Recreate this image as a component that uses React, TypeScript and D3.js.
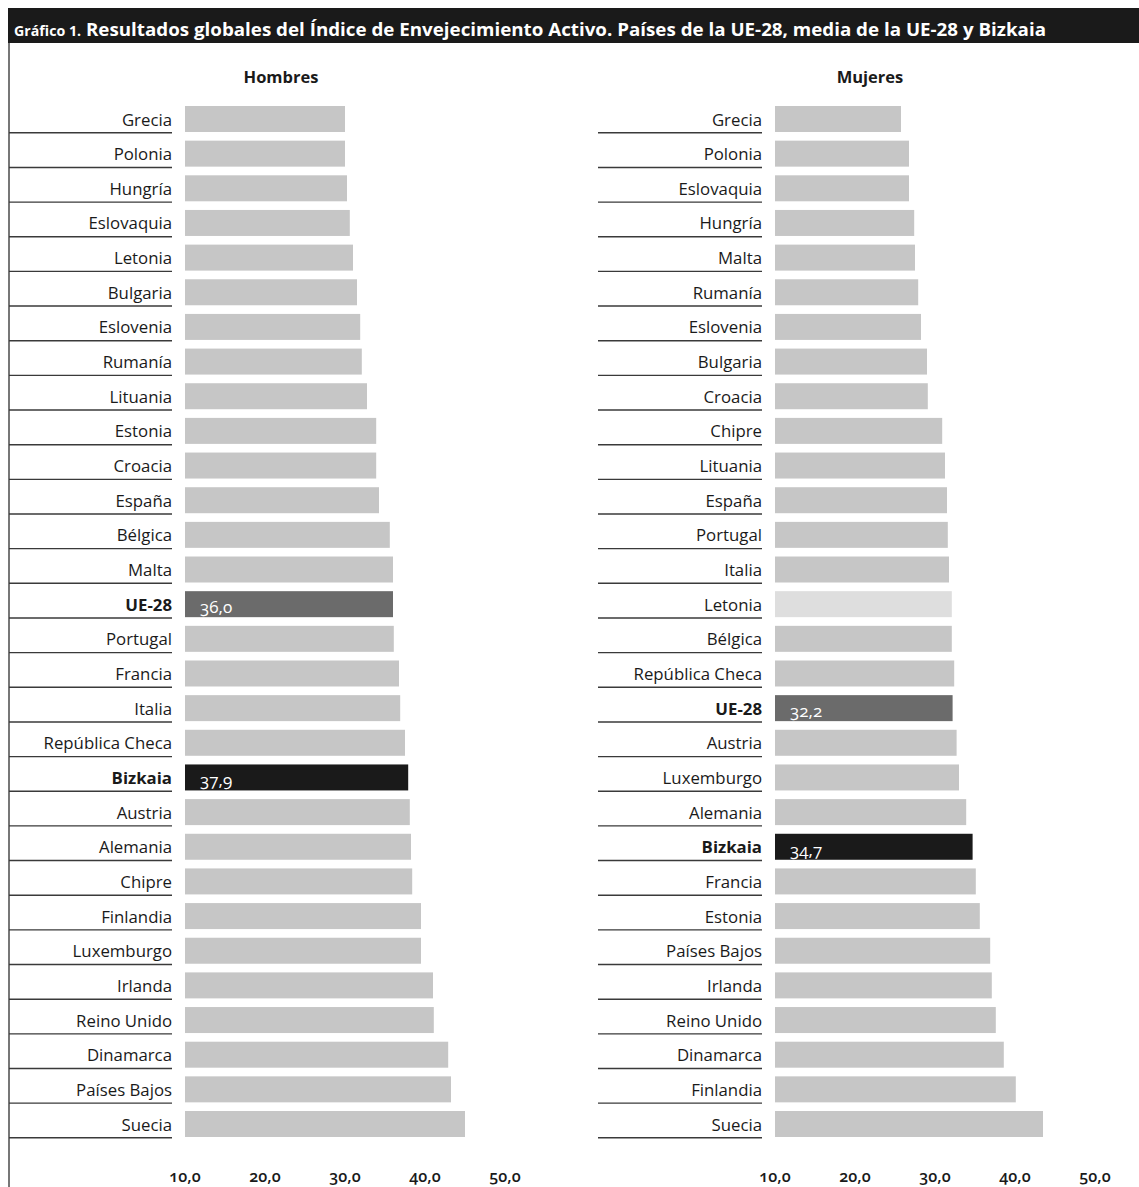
import * as d3 from 'd3';

// Hombres (orden del gráfico, de arriba a abajo)
const menCountries = [
  'Grecia', 'Polonia', 'Hungría', 'Eslovaquia', 'Letonia', 'Bulgaria', 'Eslovenia',
  'Rumanía', 'Lituania', 'Estonia', 'Croacia', 'España', 'Bélgica', 'Malta', 'UE-28',
  'Portugal', 'Francia', 'Italia', 'República Checa', 'Bizkaia', 'Austria', 'Alemania',
  'Chipre', 'Finlandia', 'Luxemburgo', 'Irlanda', 'Reino Unido', 'Dinamarca',
  'Países Bajos', 'Suecia',
];
const menValues = [
  30.0, 30.0, 30.25, 30.6, 31.0, 31.5, 31.9, 32.1, 32.75, 33.9, 33.9, 34.25, 35.6, 36.0, 36.0,
  36.1, 36.75, 36.9, 37.5, 37.9, 38.1, 38.25, 38.4, 39.5, 39.5, 41.0, 41.1, 42.9, 43.25, 45.0,
];

// Mujeres
const womenCountries = [
  'Grecia', 'Polonia', 'Eslovaquia', 'Hungría', 'Malta', 'Rumanía', 'Eslovenia', 'Bulgaria',
  'Croacia', 'Chipre', 'Lituania', 'España', 'Portugal', 'Italia', 'Letonia', 'Bélgica',
  'República Checa', 'UE-28', 'Austria', 'Luxemburgo', 'Alemania', 'Bizkaia', 'Francia',
  'Estonia', 'Países Bajos', 'Irlanda', 'Reino Unido', 'Dinamarca', 'Finlandia', 'Suecia',
];
const womenValues = [
  25.75, 26.75, 26.75, 27.4, 27.5, 27.9, 28.25, 29.0, 29.1, 30.9, 31.25, 31.5, 31.6, 31.75, 32.1,
  32.1, 32.4, 32.2, 32.7, 33.0, 33.9, 34.7, 35.1, 35.6, 36.9, 37.1, 37.6, 38.6, 40.1, 43.5,
];

const tickValues = [10, 20, 30, 40, 50];
const labelledRows = ['UE-28', 'Bizkaia'];
const paleRowsWomen = ['Letonia'];

const fmt = (v: number) => v.toFixed(1).replace('.', ',');
const FONT = "'Open Sans', 'Noto Sans', sans-serif";

function barColor(name: string, pale: string[]) {
  if (name === 'Bizkaia') return '#1a1a1a';
  if (name === 'UE-28') return '#6b6b6b';
  if (pale.includes(name)) return '#dedede';
  return '#c6c6c6';
}

interface PanelProps {
  title: string;
  countries: string[];
  values: number[];
  pale: string[];
  lineX0: number;
  labelX: number;
  barX0: number;
  titleX: number;
}

function Panel({ title, countries, values, pale, lineX0, labelX, barX0, titleX }: PanelProps) {
  const x = d3.scaleLinear().domain([10, 50]).range([barX0, barX0 + 320]);
  const y = d3.scaleBand<string>()
    .domain(countries)
    .range([106, 1137])
    .paddingInner(0.25)
    .paddingOuter(0);
  const bw = y.bandwidth();

  return (
    <g>
      <text x={titleX} y={83} textAnchor="middle" fontFamily={FONT} fontWeight={700}
        fontSize={16.5} fill="#1a1a1a">{title}</text>
      {countries.map((c, i) => {
        const top = y(c)!;
        const strong = labelledRows.includes(c);
        return (
          <g key={c}>
            <line x1={lineX0} x2={labelX} y1={top + bw + 0.8} y2={top + bw + 0.8}
              stroke="#3a3a3a" strokeWidth={1.4} />
            <text x={labelX} y={top + 19.5} textAnchor="end" fontFamily={FONT}
              fontSize={16.8} fontWeight={strong ? 700 : 400} fill="#1a1a1a">{c}</text>
            <rect x={x(10)} y={top} width={x(values[i]) - x(10)} height={bw}
              fill={barColor(c, pale)} />
            {strong && (
              <text x={x(10) + 15} y={top + 22} fontFamily={FONT} fontSize={17}
                fill="#ffffff" style={{ fontVariantNumeric: 'oldstyle-nums' }}>{fmt(values[i])}</text>
            )}
          </g>
        );
      })}
      {tickValues.map(t => (
        <text key={t} x={x(t)} y={1182} textAnchor="middle" fontFamily={FONT} fontSize={16}
          fontWeight={600} fill="#1a1a1a" style={{ fontVariantNumeric: 'oldstyle-nums' }}>{fmt(t)}</text>
      ))}
    </g>
  );
}

export default function App() {
  return (
    <svg width={1139} height={1187} style={{ position: 'absolute', left: 0, top: 0 }}>
      <rect x={0} y={0} width={1139} height={1187} fill="#ffffff" />
      {/* cabecera */}
      <rect x={8} y={8} width={1131} height={35} fill="#1a1a1a" />
      <text x={14} y={36} fontFamily={FONT} fontWeight={700} fill="#ffffff" textLength={1032}
        lengthAdjust="spacingAndGlyphs">
        <tspan fontSize={14}>Gráfico 1.</tspan>
        <tspan fontSize={18.5}> Resultados globales del Índice de Envejecimiento Activo. Países de la UE-28, media de la UE-28 y Bizkaia</tspan>
      </text>
      <line x1={9} x2={9} y1={43} y2={1187} stroke="#4a4a4a" strokeWidth={1.5} />

      <Panel title="Hombres" countries={menCountries} values={menValues} pale={[]}
        lineX0={9} labelX={172} barX0={185} titleX={281} />
      <Panel title="Mujeres" countries={womenCountries} values={womenValues} pale={paleRowsWomen}
        lineX0={598} labelX={762} barX0={775} titleX={870} />
    </svg>
  );
}
